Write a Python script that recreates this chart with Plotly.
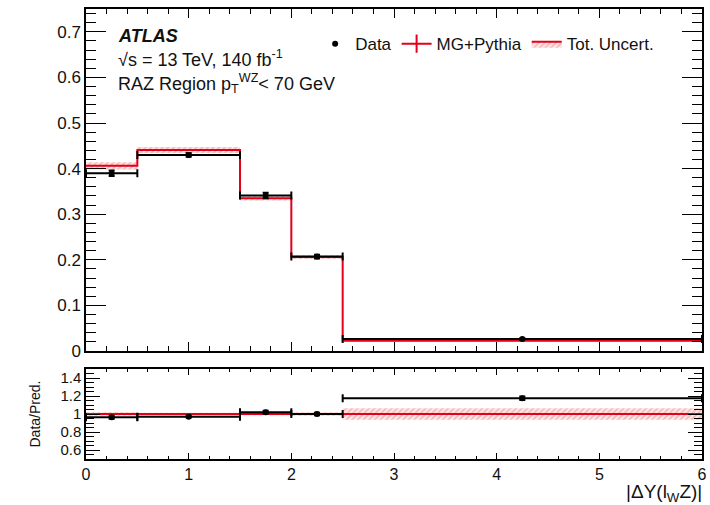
import plotly.graph_objects as go

# ---- data ----
bin_edges = [0.0, 0.5, 1.5, 2.0, 2.5, 6.0]
data_vals = [0.390, 0.430, 0.341, 0.207, 0.0265]
data_errs = [0.006, 0.004, 0.006, 0.004, 0.0012]
pred_vals = [0.406, 0.441, 0.335, 0.206, 0.0225]
rel_unc = [0.02, 0.015, 0.015, 0.02, 0.065]
ratio_vals = [0.963, 0.970, 1.020, 1.000, 1.175]
ratio_errs = [0.015, 0.010, 0.015, 0.015, 0.020]

centers = [(a + b) / 2 for a, b in zip(bin_edges[:-1], bin_edges[1:])]
halfw = [(b - a) / 2 for a, b in zip(bin_edges[:-1], bin_edges[1:])]

def step(vals):
    return list(bin_edges), list(vals) + [vals[-1]]

RED = "#e3001b"
FONT = "Liberation Sans, Arial, sans-serif"

fig = go.Figure()

# main panel uncertainty band
up = [p * (1 + r) for p, r in zip(pred_vals, rel_unc)]
lo = [p * (1 - r) for p, r in zip(pred_vals, rel_unc)]
band_pat = dict(shape="/", fgcolor="rgba(225,40,40,0.55)", bgcolor="rgba(255,215,215,0.6)", size=4, solidity=0.4)
x, y = step(lo)
fig.add_trace(go.Scatter(x=x, y=y, mode="lines", line=dict(width=0, shape="hv"),
                         showlegend=False, hoverinfo="skip", xaxis="x", yaxis="y"))
x, y = step(up)
fig.add_trace(go.Scatter(x=x, y=y, mode="lines", line=dict(width=0, shape="hv"),
                         fill="tonexty", fillpattern=band_pat, fillcolor="rgba(255,215,215,0.6)",
                         showlegend=False, hoverinfo="skip", xaxis="x", yaxis="y"))
# prediction step
x, y = step(pred_vals)
fig.add_trace(go.Scatter(x=x, y=y, mode="lines", line=dict(color=RED, width=2, shape="hv"),
                         name="MG+Pythia", showlegend=False, xaxis="x", yaxis="y"))
# legend entries
fig.add_trace(go.Scatter(x=[None], y=[None], mode="lines+markers",
                         line=dict(color=RED, width=2),
                         marker=dict(symbol="line-ns-open", size=13, color=RED,
                                     line=dict(color=RED, width=2)),
                         name="MG+Pythia", legendrank=2, xaxis="x", yaxis="y"))
fig.add_trace(go.Scatter(x=[None], y=[None], mode="lines", fill="toself",
                         fillpattern=band_pat, fillcolor="rgba(255,215,215,0.6)",
                         line=dict(color=RED, width=2), name="Tot. Uncert.", legendrank=3,
                         xaxis="x", yaxis="y"))
# data
fig.add_trace(go.Scatter(x=centers, y=data_vals, mode="markers",
                         marker=dict(color="black", size=6),
                         error_x=dict(type="data", array=halfw, color="black", thickness=2, width=4),
                         error_y=dict(type="data", array=data_errs, color="black", thickness=2, width=3),
                         name="Data", legendrank=1, xaxis="x", yaxis="y"))

# ratio panel band
r_up = [1 + r for r in rel_unc]
r_lo = [1 - r for r in rel_unc]
x, y = step(r_lo)
fig.add_trace(go.Scatter(x=x, y=y, mode="lines", line=dict(width=0, shape="hv"),
                         showlegend=False, hoverinfo="skip", xaxis="x2", yaxis="y2"))
x, y = step(r_up)
fig.add_trace(go.Scatter(x=x, y=y, mode="lines", line=dict(width=0, shape="hv"),
                         fill="tonexty", fillpattern=band_pat, fillcolor="rgba(255,215,215,0.6)",
                         showlegend=False, hoverinfo="skip", xaxis="x2", yaxis="y2"))
x, y = step([1.0] * len(pred_vals))
fig.add_trace(go.Scatter(x=x, y=y, mode="lines", line=dict(color=RED, width=2, shape="hv"),
                         showlegend=False, xaxis="x2", yaxis="y2"))
fig.add_trace(go.Scatter(x=centers, y=ratio_vals, mode="markers",
                         marker=dict(color="black", size=6),
                         error_x=dict(type="data", array=halfw, color="black", thickness=2, width=4),
                         error_y=dict(type="data", array=ratio_errs, color="black", thickness=2, width=3),
                         showlegend=False, xaxis="x2", yaxis="y2"))

axis_common = dict(showline=True, linecolor="black", linewidth=1.5, mirror="allticks",
                   ticks="inside", tickcolor="black", tickwidth=1.2, showgrid=False, zeroline=False)

fig.update_layout(
    width=710, height=505,
    margin=dict(l=86, r=3, t=9, b=46),
    paper_bgcolor="white", plot_bgcolor="white",
    font=dict(family=FONT, color="#111"),
    showlegend=True,
    legend=dict(orientation="h", x=0.372, y=0.922, xanchor="left", yanchor="middle",
                font=dict(family=FONT, size=17, color="#111"), bgcolor="rgba(0,0,0,0)",
                traceorder="normal", itemwidth=30),
    xaxis=dict(domain=[0, 1], anchor="y", range=[0, 6], dtick=1, ticklen=9,
               showticklabels=False, minor=dict(dtick=0.2, ticklen=5, ticks="inside", tickcolor="black"),
               **axis_common),
    yaxis=dict(domain=[0.24, 1], anchor="x", range=[0, 0.75], dtick=0.1, ticklen=20,
               tickfont=dict(family=FONT, size=17, color="#111"),
               minor=dict(dtick=0.02, ticklen=10, ticks="inside", tickcolor="black"),
               **axis_common),
    xaxis2=dict(domain=[0, 1], anchor="y2", range=[0, 6], dtick=1, ticklen=6,
                tickfont=dict(family=FONT, size=16, color="#111"),
                minor=dict(dtick=0.2, ticklen=3, ticks="inside", tickcolor="black"),
                **axis_common),
    yaxis2=dict(domain=[0, 0.2], anchor="x2", range=[0.5, 1.5],
                tickvals=[0.6, 0.8, 1.0, 1.2, 1.4], ticktext=["0.6", "0.8", "1", "1.2", "1.4"],
                tickfont=dict(family=FONT, size=15, color="#111"),
                ticklen=14, minor=dict(dtick=0.05, ticklen=8, ticks="inside", tickcolor="black"),
                **axis_common),
)

ann_font = dict(family=FONT, size=18, color="#111")
fig.add_annotation(text="<b><i>ATLAS</i></b>", xref="paper", yref="paper", x=0.048, y=0.94,
                   xanchor="left", yanchor="middle", showarrow=False, font=ann_font)
fig.add_annotation(text="√s = 13 TeV, 140 fb<sup>-1</sup>", xref="paper", yref="paper", x=0.048, y=0.89,
                   xanchor="left", yanchor="middle", showarrow=False, font=ann_font)
fig.add_annotation(text="RAZ Region p<sub>T</sub><sup>WZ</sup>< 70 GeV", xref="paper", yref="paper",
                   x=0.048, y=0.835, xanchor="left", yanchor="middle", showarrow=False, font=ann_font)
fig.add_annotation(text="|ΔY(l<sub>W</sub>Z)|", xref="paper", yref="paper", x=1.0, y=-0.075,
                   xanchor="right", yanchor="middle", showarrow=False, xshift=2,
                   font=dict(family=FONT, size=19, color="#111"))
fig.add_annotation(text="Data/Pred.", xref="paper", yref="paper", x=-0.082, y=0.1,
                   xanchor="center", yanchor="middle", textangle=-90, showarrow=False,
                   font=dict(family=FONT, size=14, color="#111"))

fig.write_html("out.html")
